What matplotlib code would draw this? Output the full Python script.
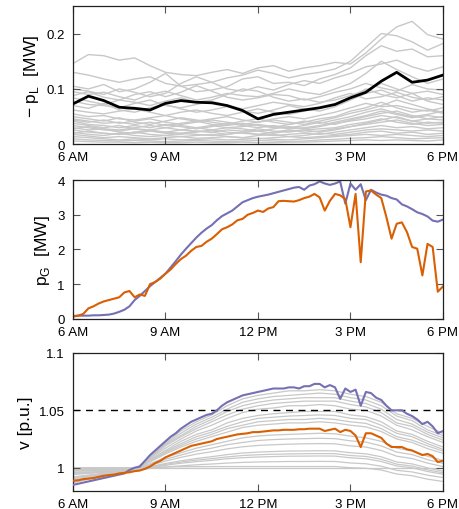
import numpy as np
import matplotlib
matplotlib.use("Agg")
import matplotlib.pyplot as plt
from matplotlib.ticker import FuncFormatter

plt.rcParams['font.family'] = ['Liberation Sans', 'DejaVu Sans']
plt.rcParams['mathtext.fontset'] = 'custom'
plt.rcParams['mathtext.rm'] = 'Liberation Sans'

# ---------------- data ----------------
hours_30 = np.linspace(6, 18, 25)      # 30-min samples
hours_10 = np.linspace(6, 18, 73)      # 10-min samples
xtick_hours = [6, 9, 12, 15, 18]
xtick_labels = ["6 AM", "9 AM", "12 PM", "3 PM", "6 PM"]

# top panel: load of each node (MW), highlighted node in black
load_highlight = [0.073, 0.087, 0.079, 0.067, 0.065, 0.062, 0.074, 0.079, 0.076, 0.075,
                  0.070, 0.061, 0.046, 0.054, 0.058, 0.062, 0.066, 0.072, 0.084, 0.094,
                  0.114, 0.130, 0.112, 0.116, 0.125]
loads_upper = [
    [0.146, 0.162, 0.160, 0.152, 0.156, 0.142, 0.130, 0.126, 0.124, 0.130, 0.135, 0.128, 0.138,
     0.142, 0.132, 0.138, 0.142, 0.148, 0.145, 0.165, 0.190, 0.212, 0.222, 0.198, 0.190],
    [0.130, 0.125, 0.118, 0.112, 0.118, 0.122, 0.110, 0.105, 0.108, 0.112, 0.120, 0.125, 0.134,
     0.128, 0.120, 0.126, 0.130, 0.136, 0.150, 0.175, 0.200, 0.196, 0.185, 0.170, 0.182],
    [0.105, 0.100, 0.108, 0.095, 0.100, 0.112, 0.128, 0.105, 0.095, 0.098, 0.104, 0.118, 0.122,
     0.110, 0.112, 0.106, 0.118, 0.126, 0.138, 0.160, 0.178, 0.168, 0.172, 0.158, 0.160],
    [0.100, 0.096, 0.090, 0.100, 0.094, 0.086, 0.092, 0.110, 0.122, 0.112, 0.100, 0.096, 0.104,
     0.098, 0.108, 0.115, 0.110, 0.120, 0.128, 0.140, 0.145, 0.152, 0.140, 0.132, 0.140],
    [0.095, 0.090, 0.094, 0.086, 0.080, 0.090, 0.096, 0.088, 0.080, 0.085, 0.092, 0.088, 0.086,
     0.092, 0.100, 0.094, 0.090, 0.100, 0.110, 0.128, 0.150, 0.135, 0.122, 0.110, 0.118],
    [0.088, 0.095, 0.085, 0.080, 0.090, 0.095, 0.086, 0.094, 0.106, 0.096, 0.085, 0.080, 0.084,
     0.090, 0.088, 0.080, 0.086, 0.094, 0.100, 0.110, 0.102, 0.096, 0.108, 0.100, 0.098],
    [0.084, 0.078, 0.072, 0.080, 0.076, 0.070, 0.078, 0.084, 0.076, 0.080, 0.090, 0.100, 0.096,
     0.085, 0.078, 0.082, 0.076, 0.080, 0.088, 0.098, 0.110, 0.100, 0.092, 0.096, 0.090],
    [0.078, 0.072, 0.070, 0.066, 0.074, 0.080, 0.070, 0.066, 0.072, 0.078, 0.070, 0.064, 0.070,
     0.076, 0.072, 0.068, 0.074, 0.084, 0.092, 0.082, 0.086, 0.094, 0.085, 0.080, 0.086],
    [0.070, 0.065, 0.074, 0.062, 0.058, 0.066, 0.072, 0.064, 0.058, 0.062, 0.068, 0.060, 0.056,
     0.062, 0.070, 0.064, 0.060, 0.068, 0.080, 0.092, 0.098, 0.088, 0.078, 0.084, 0.080],
    [0.062, 0.058, 0.055, 0.060, 0.064, 0.058, 0.052, 0.058, 0.062, 0.056, 0.052, 0.058, 0.064,
     0.058, 0.054, 0.060, 0.066, 0.072, 0.085, 0.100, 0.090, 0.084, 0.092, 0.078, 0.072],
]
loads_lower = [
    [0.055, 0.050, 0.052, 0.046, 0.044, 0.048, 0.052, 0.046, 0.042, 0.046, 0.050, 0.044, 0.040,
     0.046, 0.050, 0.046, 0.052, 0.058, 0.066, 0.074, 0.068, 0.070, 0.064, 0.060, 0.066],
    [0.050, 0.046, 0.042, 0.048, 0.040, 0.036, 0.042, 0.048, 0.044, 0.040, 0.036, 0.042, 0.046,
     0.040, 0.036, 0.040, 0.046, 0.050, 0.060, 0.066, 0.076, 0.066, 0.058, 0.062, 0.056],
    [0.046, 0.042, 0.038, 0.040, 0.036, 0.040, 0.034, 0.038, 0.042, 0.036, 0.034, 0.038, 0.034,
     0.030, 0.036, 0.042, 0.038, 0.044, 0.050, 0.058, 0.064, 0.056, 0.050, 0.054, 0.060],
    [0.042, 0.036, 0.034, 0.030, 0.034, 0.030, 0.036, 0.032, 0.028, 0.032, 0.038, 0.034, 0.030,
     0.034, 0.030, 0.034, 0.040, 0.036, 0.044, 0.050, 0.056, 0.060, 0.052, 0.046, 0.050],
    [0.038, 0.034, 0.030, 0.034, 0.028, 0.026, 0.030, 0.034, 0.030, 0.026, 0.030, 0.028, 0.024,
     0.028, 0.032, 0.028, 0.032, 0.038, 0.042, 0.046, 0.052, 0.048, 0.042, 0.046, 0.044],
    [0.034, 0.030, 0.026, 0.024, 0.028, 0.024, 0.022, 0.026, 0.024, 0.022, 0.026, 0.024, 0.028,
     0.024, 0.022, 0.026, 0.028, 0.030, 0.036, 0.040, 0.046, 0.040, 0.036, 0.040, 0.038],
    [0.030, 0.026, 0.028, 0.022, 0.020, 0.024, 0.020, 0.018, 0.022, 0.026, 0.022, 0.020, 0.018,
     0.022, 0.026, 0.022, 0.024, 0.028, 0.032, 0.036, 0.040, 0.044, 0.038, 0.034, 0.036],
    [0.026, 0.022, 0.020, 0.018, 0.022, 0.018, 0.016, 0.020, 0.018, 0.016, 0.018, 0.022, 0.018,
     0.016, 0.018, 0.020, 0.018, 0.022, 0.026, 0.030, 0.034, 0.030, 0.032, 0.028, 0.030],
    [0.022, 0.018, 0.016, 0.020, 0.016, 0.014, 0.016, 0.014, 0.016, 0.018, 0.014, 0.012, 0.016,
     0.018, 0.014, 0.016, 0.020, 0.018, 0.022, 0.026, 0.028, 0.026, 0.024, 0.026, 0.024],
    [0.018, 0.015, 0.012, 0.014, 0.012, 0.010, 0.012, 0.014, 0.011, 0.012, 0.014, 0.012, 0.010,
     0.012, 0.014, 0.012, 0.014, 0.016, 0.018, 0.022, 0.024, 0.020, 0.022, 0.018, 0.020],
    [0.014, 0.012, 0.010, 0.008, 0.010, 0.008, 0.010, 0.008, 0.009, 0.010, 0.008, 0.009, 0.011,
     0.009, 0.008, 0.010, 0.012, 0.014, 0.016, 0.018, 0.016, 0.018, 0.016, 0.014, 0.016],
    [0.010, 0.008, 0.007, 0.006, 0.007, 0.006, 0.005, 0.006, 0.007, 0.006, 0.005, 0.006, 0.007,
     0.006, 0.005, 0.006, 0.008, 0.009, 0.011, 0.012, 0.014, 0.012, 0.010, 0.011, 0.012],
    [0.006, 0.005, 0.004, 0.004, 0.003, 0.004, 0.003, 0.003, 0.004, 0.003, 0.003, 0.004, 0.003,
     0.003, 0.004, 0.004, 0.005, 0.006, 0.007, 0.008, 0.007, 0.008, 0.007, 0.006, 0.008],
    [0.044, 0.040, 0.044, 0.038, 0.042, 0.046, 0.040, 0.036, 0.040, 0.044, 0.040, 0.036, 0.040,
     0.044, 0.040, 0.036, 0.042, 0.048, 0.056, 0.062, 0.070, 0.080, 0.072, 0.064, 0.058],
    [0.028, 0.032, 0.028, 0.026, 0.030, 0.034, 0.030, 0.026, 0.030, 0.034, 0.030, 0.032, 0.036,
     0.032, 0.028, 0.030, 0.034, 0.040, 0.046, 0.052, 0.060, 0.054, 0.048, 0.052, 0.048],
    [0.020, 0.024, 0.020, 0.018, 0.022, 0.026, 0.022, 0.020, 0.024, 0.022, 0.018, 0.022, 0.024,
     0.020, 0.024, 0.026, 0.022, 0.026, 0.032, 0.038, 0.044, 0.050, 0.042, 0.038, 0.040],
]

# middle panel: PV generation (MW), 10-min samples
pv_available = [0.08, 0.09, 0.09, 0.09, 0.10, 0.10, 0.11, 0.12, 0.15, 0.20, 0.26, 0.36,
                0.54, 0.66, 0.80, 0.94, 1.06, 1.18, 1.30, 1.48, 1.66, 1.85, 2.02, 2.18,
                2.34, 2.48, 2.60, 2.70, 2.84, 2.96, 3.04, 3.12, 3.24, 3.36, 3.42, 3.48,
                3.52, 3.55, 3.58, 3.62, 3.66, 3.70, 3.74, 3.78, 3.80, 3.72, 3.84, 3.88,
                3.96, 3.90, 3.86, 3.90, 3.96, 3.32, 3.90, 3.72, 3.88, 3.42, 3.72, 3.64,
                3.58, 3.55, 3.48, 3.44, 3.30, 3.24, 3.16, 3.07, 3.02, 2.95, 2.83, 2.80, 2.86]
pv_actual = [0.06, 0.09, 0.14, 0.30, 0.36, 0.44, 0.50, 0.54, 0.58, 0.62, 0.76, 0.80,
             0.62, 0.70, 0.66, 1.00, 1.06, 1.16, 1.30, 1.42, 1.58, 1.72, 1.82, 1.96,
             2.07, 2.10, 2.22, 2.31, 2.44, 2.58, 2.64, 2.72, 2.84, 2.88, 3.00, 3.05,
             3.12, 3.08, 3.18, 3.22, 3.39, 3.40, 3.39, 3.38, 3.42, 3.48, 3.52, 3.60,
             3.50, 3.12, 3.40, 3.60, 3.56, 3.45, 2.64, 3.60, 1.63, 3.67, 3.70, 3.58,
             3.48, 2.93, 2.31, 2.74, 2.78, 2.50, 2.07, 2.02, 1.25, 2.16, 2.07, 0.78, 0.93]

# bottom panel: node voltages (p.u.)
v_limit = 1.05
v_max_node = [0.985, 0.986, 0.987, 0.988, 0.989, 0.990, 0.991, 0.992, 0.993, 0.994, 0.995, 0.998,
              1.000, 1.001, 1.006, 1.011, 1.015, 1.019, 1.023, 1.027, 1.030, 1.034, 1.037, 1.040,
              1.042, 1.044, 1.046, 1.047, 1.050, 1.054, 1.057, 1.059, 1.061, 1.063, 1.064, 1.065,
              1.066, 1.067, 1.068, 1.069, 1.069, 1.069, 1.070, 1.070, 1.069, 1.071, 1.071, 1.073,
              1.073, 1.070, 1.072, 1.070, 1.060, 1.069, 1.066, 1.068, 1.054, 1.066, 1.065, 1.061,
              1.059, 1.054, 1.050, 1.050, 1.050, 1.047, 1.045, 1.042, 1.038, 1.040, 1.036, 1.030, 1.032]
v_sel_node = [0.9887, 0.989, 0.990, 0.9905, 0.991, 0.992, 0.993, 0.9935, 0.994, 0.995, 0.9955, 0.996,
              0.997, 0.9975, 0.999, 1.001, 1.004, 1.006, 1.009, 1.011, 1.013, 1.015, 1.017, 1.019,
              1.020, 1.021, 1.022, 1.023, 1.025, 1.026, 1.027, 1.028, 1.029, 1.0295, 1.030, 1.031,
              1.031, 1.0315, 1.032, 1.0325, 1.0325, 1.033, 1.033, 1.033, 1.0335, 1.0335, 1.034, 1.034,
              1.034, 1.032, 1.033, 1.034, 1.031, 1.033, 1.032, 1.028, 1.018, 1.030, 1.030, 1.028,
              1.026, 1.021, 1.018, 1.018, 1.018, 1.016, 1.015, 1.013, 1.011, 1.012, 1.010, 1.005, 1.006]
v_others = [
    [0.987, 0.990, 0.992, 0.995, 0.998, 1.010, 1.022, 1.032, 1.040, 1.046, 1.054, 1.060, 1.063,
     1.065, 1.067, 1.067, 1.068, 1.067, 1.064, 1.062, 1.057, 1.047, 1.043, 1.036, 1.030],
    [0.987, 0.990, 0.993, 0.995, 0.998, 1.009, 1.021, 1.030, 1.038, 1.044, 1.051, 1.057, 1.060,
     1.062, 1.063, 1.064, 1.065, 1.064, 1.061, 1.059, 1.054, 1.045, 1.041, 1.033, 1.028],
    [0.988, 0.9905, 0.993, 0.9955, 0.998, 1.009, 1.020, 1.028, 1.036, 1.042, 1.049, 1.054, 1.057,
     1.059, 1.060, 1.061, 1.061, 1.061, 1.058, 1.056, 1.051, 1.042, 1.038, 1.031, 1.026],
    [0.989, 0.991, 0.993, 0.996, 0.998, 1.008, 1.019, 1.027, 1.034, 1.040, 1.046, 1.051, 1.054,
     1.056, 1.057, 1.058, 1.058, 1.058, 1.055, 1.053, 1.048, 1.039, 1.036, 1.029, 1.024],
    [0.989, 0.991, 0.994, 0.996, 0.998, 1.008, 1.017, 1.025, 1.032, 1.037, 1.043, 1.048, 1.051,
     1.052, 1.054, 1.054, 1.055, 1.054, 1.051, 1.050, 1.045, 1.037, 1.033, 1.027, 1.022],
    [0.990, 0.992, 0.994, 0.996, 0.998, 1.007, 1.015, 1.023, 1.029, 1.033, 1.039, 1.043, 1.0455,
     1.047, 1.048, 1.049, 1.049, 1.049, 1.046, 1.0445, 1.040, 1.032, 1.029, 1.023, 1.018],
    [0.991, 0.993, 0.994, 0.996, 0.998, 1.006, 1.014, 1.021, 1.027, 1.031, 1.036, 1.040, 1.043,
     1.044, 1.045, 1.0455, 1.046, 1.0455, 1.043, 1.042, 1.037, 1.030, 1.027, 1.021, 1.016],
    [0.9915, 0.993, 0.995, 0.9965, 0.998, 1.006, 1.013, 1.0195, 1.025, 1.029, 1.034, 1.037, 1.040,
     1.041, 1.042, 1.042, 1.043, 1.042, 1.040, 1.0386, 1.034, 1.027, 1.024, 1.019, 1.0145],
    [0.992, 0.9935, 0.995, 0.9965, 0.998, 1.005, 1.012, 1.018, 1.023, 1.027, 1.031, 1.035, 1.037,
     1.038, 1.039, 1.039, 1.040, 1.039, 1.037, 1.0356, 1.0315, 1.025, 1.022, 1.0166, 1.0125],
    [0.994, 0.995, 0.996, 0.997, 0.998, 1.0034, 1.009, 1.013, 1.017, 1.020, 1.023, 1.026, 1.0276,
     1.0285, 1.029, 1.0295, 1.030, 1.0295, 1.0275, 1.026, 1.023, 1.017, 1.0146, 1.010, 1.0064],
    [0.995, 0.9955, 0.9965, 0.997, 0.998, 1.0027, 1.0074, 1.011, 1.0146, 1.017, 1.020, 1.022, 1.0237,
     1.0245, 1.025, 1.0253, 1.0256, 1.0253, 1.0234, 1.0223, 1.019, 1.0136, 1.0114, 1.007, 1.0038],
    [0.9956, 0.996, 0.997, 0.9975, 0.998, 1.0019, 1.0058, 1.009, 1.0118, 1.0139, 1.0164, 1.0182, 1.0194,
     1.020, 1.0205, 1.0208, 1.021, 1.0208, 1.019, 1.018, 1.015, 1.010, 1.008, 1.004, 1.001],
    [0.997, 0.997, 0.9975, 0.998, 0.998, 1.0009, 1.0037, 1.006, 1.008, 1.0096, 1.0114, 1.0128, 1.0136,
     1.0141, 1.0145, 1.0146, 1.0148, 1.0146, 1.013, 1.0121, 1.0095, 1.005, 1.0033, 0.9998, 0.997],
    [0.9973, 0.9975, 0.9977, 0.998, 0.998, 1.0004, 1.0029, 1.0049, 1.0066, 1.0079, 1.0094, 1.0106, 1.0113,
     1.0117, 1.012, 1.0122, 1.0123, 1.0122, 1.0106, 1.0098, 1.0073, 1.0031, 1.0014, 0.9981, 0.9956],
    [0.9977, 0.9978, 0.998, 0.998, 0.998, 1.0001, 1.0021, 1.0039, 1.0053, 1.0064, 1.0078, 1.0087, 1.0093,
     1.0097, 1.010, 1.0101, 1.0102, 1.0101, 1.0086, 1.0078, 1.0054, 1.0015, 0.9999, 0.9967, 0.9943],
    [0.9986, 0.9985, 0.9983, 0.9982, 0.998, 0.9993, 1.0006, 1.0016, 1.0025, 1.0032, 1.004, 1.0046, 1.005,
     1.0052, 1.0054, 1.0054, 1.0055, 1.0054, 1.0041, 1.0034, 1.0013, 0.9977, 0.9963, 0.9935, 0.9914],
    [1.000, 1.000, 1.000, 1.000, 1.000, 1.0003, 1.0006, 1.0008, 1.0009, 1.001, 1.001, 1.001, 1.001,
     1.001, 1.001, 1.001, 1.001, 1.001, 1.000, 0.9995, 0.998, 0.9945, 0.993, 0.990, 0.988],
    [1.000, 1.000, 1.000, 1.000, 1.000, 1.000, 1.000, 1.000, 1.000, 1.000, 1.000, 1.000, 1.000,
     1.000, 1.000, 1.000, 1.000, 1.000, 1.000, 1.000, 1.000, 1.000, 1.000, 1.000, 1.000],
]

# ---------------- style ----------------
GRAY = "#c8c8c8"
PURPLE = "#7570b3"
ORANGE = "#d95f02"
TICK_FS = 9.5
LABEL_FS = 12.5

fig = plt.figure(figsize=(4.59, 5.10), dpi=100)
ax1 = fig.add_axes([0.159, 0.715, 0.806, 0.2716])
ax2 = fig.add_axes([0.159, 0.373, 0.806, 0.272])
ax3 = fig.add_axes([0.159, 0.036, 0.806, 0.270])

fmt = FuncFormatter(lambda v, p: "%g" % v)

for ax in (ax1, ax2, ax3):
    ax.set_xlim(6, 18)
    ax.set_xticks(xtick_hours)
    ax.set_xticklabels(xtick_labels)
    ax.tick_params(direction="in", top=True, right=True, length=5, width=0.8,
                   color="#555555", labelsize=TICK_FS)
    ax.tick_params(axis="x", pad=5)
    ax.tick_params(axis="y", pad=6)
    for s in ax.spines.values():
        s.set_linewidth(0.9)
        s.set_color("#222222")
    ax.yaxis.set_major_formatter(fmt)

# top
for series in loads_lower + loads_upper:
    ax1.plot(hours_30, series, color=GRAY, lw=1.0, zorder=1)
ax1.plot(hours_30, load_highlight, color="black", lw=2.0, zorder=3)
ax1.set_ylim(0, 0.25)
ax1.set_yticks([0, 0.1, 0.2])
ax1.set_ylabel("− p$_\\mathregular{L}$  [MW]", fontsize=LABEL_FS)

# middle
ax2.plot(hours_10, pv_available, color=PURPLE, lw=1.5)
ax2.plot(hours_10, pv_actual, color=ORANGE, lw=1.5)
ax2.set_ylim(0, 4)
ax2.set_yticks([0, 1, 2, 3, 4])
ax2.set_ylabel("p$_\\mathregular{G}$  [MW]", fontsize=LABEL_FS)

# bottom
for series in v_others:
    ax3.plot(hours_30, series, color=GRAY, lw=0.9, zorder=1)
ax3.plot(hours_10, v_max_node, color=PURPLE, lw=1.5, zorder=3)
ax3.plot(hours_10, v_sel_node, color=ORANGE, lw=1.5, zorder=3)
ax3.axhline(v_limit, color="black", lw=1.0, ls=(0, (5, 4)), zorder=2)
ax3.set_ylim(0.98, 1.1)
ax3.set_yticks([1.0, 1.05, 1.1])
ax3.set_ylabel("v [p.u.]", fontsize=LABEL_FS)

fig.savefig("out.png", dpi=100)
